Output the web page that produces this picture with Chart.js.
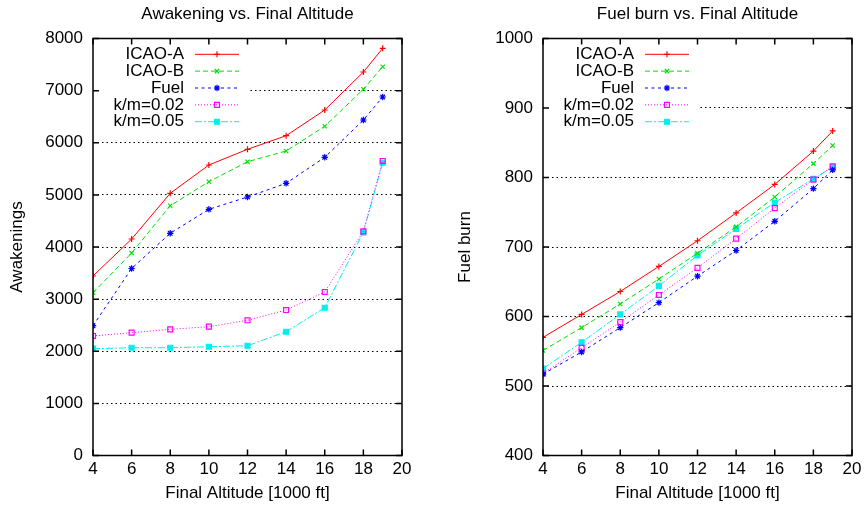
<!DOCTYPE html>
<html>
<head>
<meta charset="utf-8">
<script src="https://cdn.jsdelivr.net/npm/chart.js@4/dist/chart.umd.min.js"></script>
<style>
  body { margin: 0; background: #fff; }
  #wrap { position: relative; width: 866px; height: 509px; }
  canvas { position: absolute; top: 0; }
  #c1 { left: 0; }
  #c2 { left: 433px; }
</style>
</head>
<body>
<div id="wrap">
  <canvas id="c1" width="433" height="509"></canvas>
  <canvas id="c2" width="433" height="509"></canvas>
</div>
<script>
const altitudes = [4, 6, 8, 10, 12, 14, 16, 18, 19];
const seriesNames = ['ICAO-A', 'ICAO-B', 'Fuel', 'k/m=0.02', 'k/m=0.05'];

// awakenings
const awakeIcaoA = [3444, 4153, 5030, 5573, 5874, 6135, 6628, 7357, 7812];
const awakeIcaoB = [3123, 3885, 4792, 5253, 5636, 5842, 6316, 7026, 7459];
const awakeFuel  = [2490, 3588, 4263, 4723, 4959, 5222, 5721, 6436, 6878];
const awakeK002  = [2293, 2356, 2421, 2471, 2594, 2791, 3137, 4301, 5650];
const awakeK005  = [2049, 2068, 2068, 2087, 2106, 2375, 2835, 4282, 5617];

// fuel burn
const fuelIcaoA = [570, 603, 636, 672, 709, 749, 790, 838, 867];
const fuelIcaoB = [551, 584, 618, 654, 691, 729, 772, 820, 846];
const fuelFuel  = [517, 549, 584, 620, 658, 695, 737, 784, 811];
const fuelK002  = [518, 555, 592, 631, 670, 712, 756, 797, 816];
const fuelK005  = [525, 563, 603, 644, 688, 726, 764, 798, 815];

const FONT = "'Liberation Sans', Arial, sans-serif";
Chart.defaults.font.family = FONT;
Chart.defaults.font.size = 17;
Chart.defaults.color = '#000';

const styles = [
  { color: '#ff0000', dash: [], point: 'cross', radius: 3, bg: '#ff0000' },
  { color: '#00e000', dash: [5, 3], point: 'crossRot', radius: 3, bg: '#00e000' },
  { color: '#0000ff', dash: [3, 3.5], point: 'star', radius: 3.2, bg: '#0000ff' },
  { color: '#ff00ff', dash: [1, 2], point: 'rect', radius: 3.5, bg: 'rgba(255,255,255,0)' },
  { color: '#00f0f0', dash: [7, 2, 2, 2], point: 'rect', radius: 3.5, bg: '#00f0f0' }
];

function makeDatasets(lists) {
  return lists.map((vals, i) => {
    const s = styles[i];
    return {
      label: seriesNames[i],
      data: altitudes.map((x, j) => ({ x: x, y: vals[j] })),
      borderColor: s.color,
      backgroundColor: s.bg,
      borderWidth: 1,
      borderDash: s.dash,
      pointStyle: s.point,
      pointRadius: s.radius,
      pointBorderWidth: 1.2,
      pointBorderColor: s.color,
      pointBackgroundColor: s.bg,
      tension: 0,
      fill: false
    };
  });
}

// frame, inner ticks, legend box and title, gnuplot style
const gnuFrame = {
  id: 'gnuFrame',
  afterDraw(chart, args, opts) {
    const ctx = chart.ctx;
    const a = chart.chartArea;
    const sx = chart.scales.x, sy = chart.scales.y;
    ctx.save();

    // legend
    ctx.fillStyle = '#fff';
    ctx.fillRect(a.left + 1, a.top + 1, 156, 95);
    ctx.font = '17px ' + FONT;
    ctx.textAlign = 'right';
    ctx.textBaseline = 'middle';
    chart.data.datasets.forEach((ds, i) => {
      const y = a.top + 15.8 + i * 16.85;
      ctx.fillStyle = '#000';
      ctx.fillText(ds.label, a.left + 91, y);
      ctx.strokeStyle = ds.borderColor;
      ctx.lineWidth = ds.borderWidth;
      ctx.setLineDash(ds.borderDash);
      ctx.beginPath();
      ctx.moveTo(a.left + 102, y);
      ctx.lineTo(a.left + 146, y);
      ctx.stroke();
      ctx.setLineDash([]);
      ctx.fillStyle = ds.pointBackgroundColor;
      ctx.strokeStyle = ds.pointBorderColor;
      ctx.lineWidth = ds.pointBorderWidth;
      Chart.helpers.drawPoint(ctx, {
        pointStyle: ds.pointStyle, radius: ds.pointRadius,
        borderWidth: ds.pointBorderWidth, rotation: 0
      }, a.left + 124, y);
    });

    // frame and ticks
    ctx.strokeStyle = '#000';
    ctx.lineWidth = 1.5;
    ctx.strokeRect(a.left, a.top, a.right - a.left, a.bottom - a.top);
    const tl = 6;
    ctx.beginPath();
    sx.ticks.forEach(t => {
      const px = sx.getPixelForValue(t.value);
      ctx.moveTo(px, a.bottom); ctx.lineTo(px, a.bottom - tl);
      ctx.moveTo(px, a.top); ctx.lineTo(px, a.top + tl);
    });
    sy.ticks.forEach(t => {
      const py = sy.getPixelForValue(t.value);
      ctx.moveTo(a.left, py); ctx.lineTo(a.left + tl, py);
      ctx.moveTo(a.right, py); ctx.lineTo(a.right - tl, py);
    });
    ctx.stroke();

    // title
    ctx.fillStyle = '#000';
    ctx.textAlign = 'center';
    ctx.textBaseline = 'middle';
    ctx.fillText(opts.text, (a.left + a.right) / 2, 14.5);
    ctx.restore();
  }
};

function makeChart(id, title, yTitle, lists, yMin, yMax, yStep, yWidth, yTitlePad, padRight) {
  return new Chart(document.getElementById(id), {
    type: 'line',
    data: { datasets: makeDatasets(lists) },
    plugins: [gnuFrame],
    options: {
      responsive: false,
      animation: false,
      layout: { padding: { top: 38.5, right: padRight, left: 0, bottom: 0 } },
      plugins: {
        legend: { display: false },
        tooltip: { enabled: false },
        gnuFrame: { text: title }
      },
      scales: {
        x: {
          type: 'linear',
          min: 4, max: 20,
          ticks: { stepSize: 2, padding: 4, callback: v => String(v) },
          grid: { display: false, drawTicks: false },
          border: { display: false },
          title: { display: true, text: 'Final Altitude [1000 ft]', padding: { top: 0, bottom: 5.5 } },
          afterFit(scale) { scale.height = 53.5; }
        },
        y: {
          min: yMin, max: yMax,
          ticks: { stepSize: yStep, padding: 10, callback: v => String(v) },
          grid: { color: '#000', lineWidth: 1, drawTicks: false },
          border: { display: false, dash: [1.5, 3] },
          title: { display: true, text: yTitle, padding: { top: yTitlePad, bottom: 0 } },
          afterFit(scale) { scale.width = yWidth; }
        }
      }
    }
  });
}

makeChart('c1', 'Awakening vs. Final Altitude', 'Awakenings',
  [awakeIcaoA, awakeIcaoB, awakeFuel, awakeK002, awakeK005],
  0, 8000, 1000, 93, 7.5, 31);

makeChart('c2', 'Fuel burn vs. Final Altitude', 'Fuel burn',
  [fuelIcaoA, fuelIcaoB, fuelFuel, fuelK002, fuelK005],
  400, 1000, 100, 110, 22.5, 14);
</script>
</body>
</html>
